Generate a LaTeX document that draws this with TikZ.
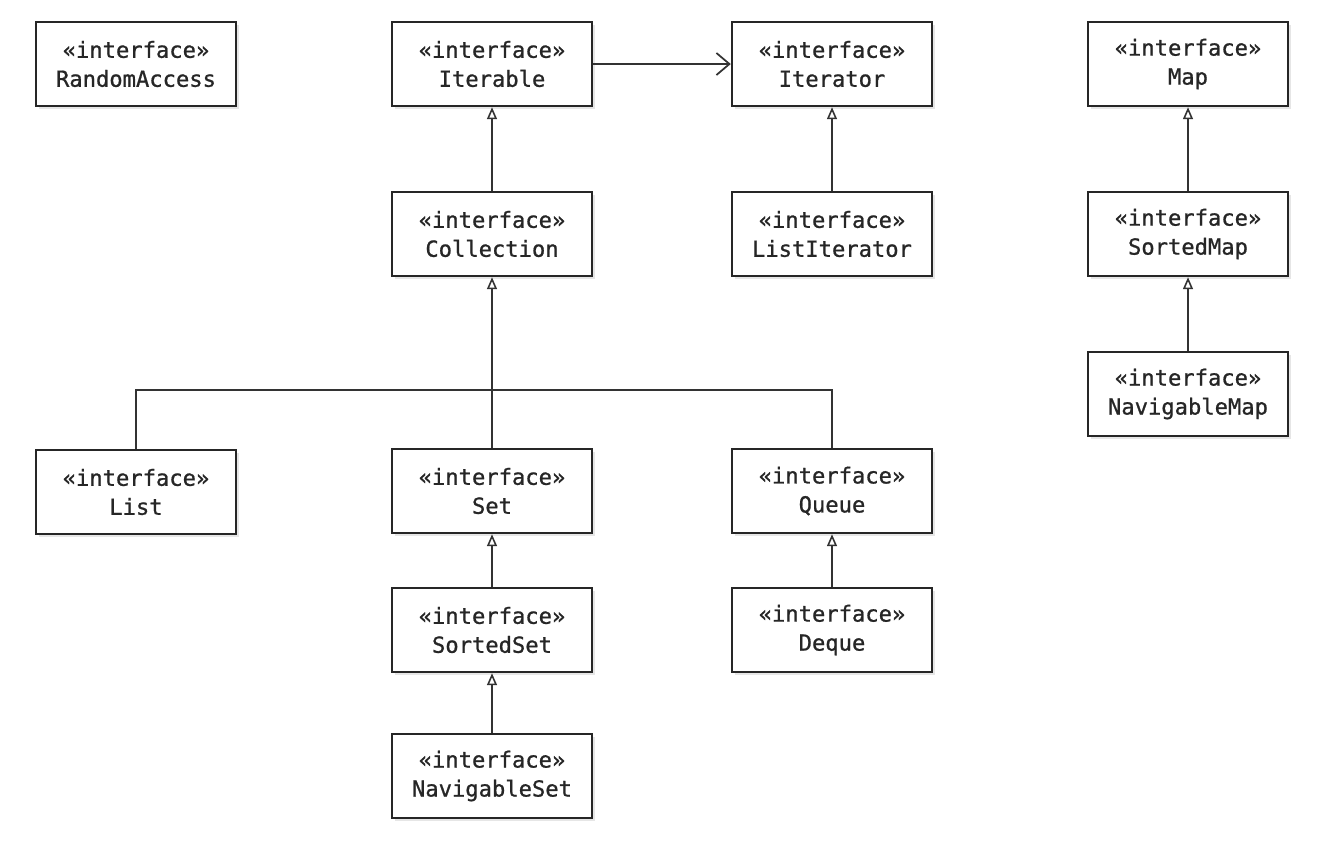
\documentclass[tikz,border=0pt]{standalone}
\usepackage{fontspec}
\newfontfamily\umlfont[FakeBold=0.9]{DejaVu Sans Mono}
\usetikzlibrary{arrows.meta,shadows}

\begin{document}
\begin{tikzpicture}[x=0.02cm,y=-0.02cm,line width=1.4pt,
  every node/.style={draw=black!85,fill=white,rectangle,minimum width=4cm,minimum height=1.68cm,
    align=center,font=\umlfont\fontsize{12.6}{16.5}\selectfont,text=black!85,
    drop shadow={opacity=0.2,shadow xshift=1.6pt,shadow yshift=-1.6pt}},
  ext/.style={-{Triangle[open,length=2.4mm,width=2mm,line width=0.9pt]},line width=1.2pt,draw=black!80},
  assoc/.style={-{Straight Barb[length=2.6mm,width=4.4mm,line width=1pt]},line width=1.2pt,draw=black!80}]
\useasboundingbox (0,0) rectangle (1324,846);
\node (ra) at (136,64) {«interface»\\RandomAccess};
\node (itb) at (492,64) {«interface»\\Iterable};
\node (itr) at (832,64) {«interface»\\Iterator};
\node (map) at (1188,64) {«interface»\\Map};
\node (col) at (492,234) {«interface»\\Collection};
\node (litr) at (832,234) {«interface»\\ListIterator};
\node (smap) at (1188,234) {«interface»\\SortedMap};
\node (nmap) at (1188,394) {«interface»\\NavigableMap};
\node (list) at (136,492) {«interface»\\List};
\node (set) at (492,491) {«interface»\\Set};
\node (queue) at (832,491) {«interface»\\Queue};
\node (sset) at (492,630) {«interface»\\SortedSet};
\node (deque) at (832,630) {«interface»\\Deque};
\node (nset) at (492,776) {«interface»\\NavigableSet};
\coordinate (fork) at (492,390);
\draw[assoc] (itb.east) to (itr.west);
\draw[ext] (col.north) to (itb.south);
\draw[ext] (litr.north) to (itr.south);
\draw[ext] (smap.north) to (map.south);
\draw[ext] (nmap.north) to (smap.south);
\draw[ext] (set.north) to (col.south);
\draw[line width=1.2pt,draw=black!80] (list.north) |- (fork) -| (queue.north);
\draw[ext] (sset.north) to (set.south);
\draw[ext] (nset.north) to (sset.south);
\draw[ext] (deque.north) to (queue.south);
\end{tikzpicture}
\end{document}
